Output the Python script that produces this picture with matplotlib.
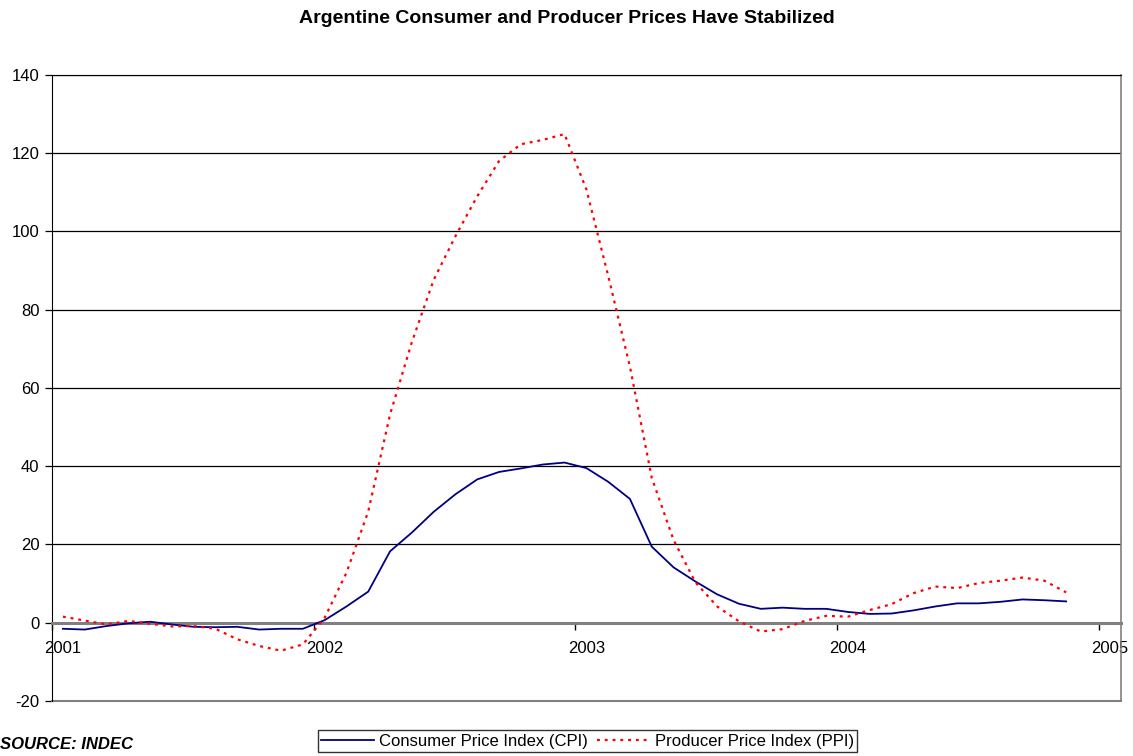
import numpy as np
import pandas as pd
import matplotlib
matplotlib.use('Agg')
import matplotlib.pyplot as plt

plt.rcParams['font.family'] = ['Liberation Sans', 'DejaVu Sans']
plt.rcParams['axes.unicode_minus'] = False

# monthly, Jan 2001 - Nov 2004 (year-over-year % change)
months = pd.date_range('2001-01-01', periods=47, freq='MS')

cpi = [-1.6, -1.8, -0.9, -0.2, 0.2, -0.5, -1.1, -1.2, -1.1, -1.8, -1.6, -1.6,
       0.6, 4.1, 7.9, 18.2, 23.0, 28.3, 32.8, 36.6, 38.5, 39.4, 40.4, 40.9,
       39.5, 36.0, 31.6, 19.4, 14.1, 10.5, 7.2, 4.8, 3.5, 3.8, 3.5, 3.5,
       2.7, 2.2, 2.3, 3.1, 4.1, 4.9, 4.9, 5.3, 5.9, 5.7, 5.4]

ppi = [1.5, 0.5, -0.5, 0.4, -0.3, -1.0, -0.9, -1.6, -4.3, -6.0, -7.2, -5.6,
       1.2, 12.7, 28.4, 53.2, 71.7, 87.6, 98.8, 109.0, 118.0, 122.3, 123.4, 124.9,
       110.8, 88.7, 65.4, 37.0, 21.1, 10.3, 4.1, 0.3, -2.3, -1.7, 0.4, 1.7,
       1.5, 3.2, 4.7, 7.5, 9.2, 8.8, 10.1, 10.7, 11.5, 10.7, 7.7]

year_labels = ['2001', '2002', '2003', '2004', '2005']

x = np.arange(len(months)) + 0.5
grey = '#808080'

fig = plt.figure(figsize=(11.33, 7.56), dpi=100)
ax = fig.add_axes([0.0459, 0.0731, 0.9432, 0.8277])

for v in range(20, 141, 20):
    ax.axhline(v, color='black', lw=0.9, zorder=1)

ax.plot(x, cpi, color='#000080', lw=1.3, label='Consumer Price Index (CPI)', zorder=3)
ax.plot(x, ppi, color='#FF0000', lw=1.6, linestyle=(0, (1.3, 2.2)),
        label='Producer Price Index (PPI)', zorder=3)

ax.set_xlim(0, 49)
ax.set_ylim(-20, 140)

# y axis
ax.set_yticks(range(-20, 141, 20))
ax.tick_params(axis='y', direction='out', length=5, width=0.9, labelsize=12, pad=4)

# x axis on the zero line: ticks at year boundaries, labels at January centres
ax.spines['bottom'].set_position(('data', 0))
ax.spines['bottom'].set_color(grey)
ax.spines['bottom'].set_linewidth(2.2)
ax.set_xticks([0, 12, 24, 36, 48])
ax.set_xticklabels([])
ax.set_xticks([0.5, 12.5, 24.5, 36.5, 48.5], minor=True)
ax.set_xticklabels(year_labels, minor=True)
ax.tick_params(axis='x', which='major', direction='out', length=5, width=1.0, color='black')
ax.tick_params(axis='x', which='minor', length=0, labelsize=12, pad=13)

ax.spines['left'].set_color('black')
ax.spines['top'].set_color('black')
ax.spines['right'].set_color(grey)
ax.spines['right'].set_linewidth(1.2)
ax.axhline(-20, color=grey, lw=1.5, clip_on=False, zorder=2)

fig.text(0.5, 0.976, 'Argentine Consumer and Producer Prices Have Stabilized',
         ha='center', va='center', fontsize=14, fontweight='bold')

fig.text(0.0, 0.0146, 'SOURCE: INDEC', ha='left', va='center',
         fontsize=12, fontweight='bold', fontstyle='italic')

leg = fig.legend(loc='center', bbox_to_anchor=(0.5185, 0.0198), ncol=2,
                 fancybox=False, edgecolor='black', fontsize=12,
                 handlelength=3.2, handletextpad=0.3, columnspacing=0.5,
                 borderpad=0.2, borderaxespad=0)
leg.get_frame().set_linewidth(1.0)

fig.savefig('out.png', dpi=100)
